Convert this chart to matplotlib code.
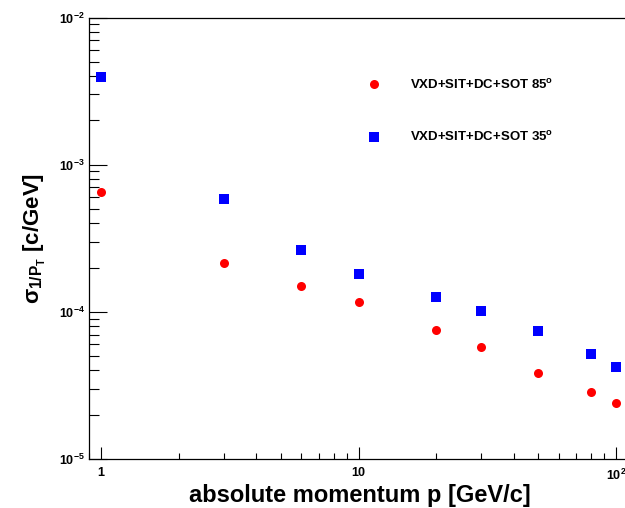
import matplotlib
matplotlib.use('Agg')
from matplotlib import pyplot as plt
from matplotlib.ticker import LogLocator, FixedLocator, FixedFormatter, NullFormatter

plt.rcParams['font.family'] = ['Liberation Sans', 'DejaVu Sans']
plt.rcParams['font.weight'] = 'bold'
plt.rcParams['mathtext.fontset'] = 'custom'
plt.rcParams['mathtext.rm'] = 'Liberation Sans:bold'
plt.rcParams['mathtext.it'] = 'Liberation Sans:bold'
plt.rcParams['mathtext.bf'] = 'Liberation Sans:bold'

# momentum points (GeV/c)
momentum = [1, 3, 6, 10, 20, 30, 50, 80, 100]

# resolution of 1/pT (c/GeV)
sigma_85 = [6.5e-4, 2.14e-4, 1.5e-4, 1.17e-4, 7.5e-5, 5.8e-5, 3.85e-5, 2.85e-5, 2.4e-5]
sigma_35 = [3.95e-3, 5.8e-4, 2.62e-4, 1.81e-4, 1.26e-4, 1.02e-4, 7.4e-5, 5.2e-5, 4.25e-5]

labels = ['VXD+SIT+DC+SOT 85$^{\\mathrm{o}}$', 'VXD+SIT+DC+SOT 35$^{\\mathrm{o}}$']

fig = plt.figure(figsize=(6.25, 5.08), dpi=100)
# axes run a little past the right edge, as in the cropped original
ax = fig.add_axes([89 / 625, 1 - 459 / 508, (630 - 89) / 625, (459 - 17.5) / 508])

ax.plot(momentum, sigma_85, 'o', color='#ff0000', markersize=6.5, markeredgewidth=0, label=labels[0])
ax.plot(momentum, sigma_35, 's', color='#0000ff', markersize=6.5, markeredgewidth=0, label=labels[1])

ax.set_xscale('log')
ax.set_yscale('log')
ax.set_xlim(0.898, 10 ** ((630 - 101) / 257.5))
ax.set_ylim(1e-5, 1e-2)

ax.xaxis.set_major_locator(FixedLocator([1, 10, 100]))
ax.xaxis.set_major_formatter(FixedFormatter(['1', '10', '10$^{2}$']))
ax.xaxis.set_minor_locator(LogLocator(base=10, subs=range(2, 10)))
ax.xaxis.set_minor_formatter(NullFormatter())
ax.yaxis.set_major_locator(FixedLocator([1e-5, 1e-4, 1e-3, 1e-2]))
ax.yaxis.set_major_formatter(FixedFormatter(['10$^{-5}$', '10$^{-4}$', '10$^{-3}$', '10$^{-2}$']))
ax.yaxis.set_minor_locator(LogLocator(base=10, subs=range(2, 10)))
ax.yaxis.set_minor_formatter(NullFormatter())

ax.tick_params(axis='x', which='major', direction='in', length=9, width=0.8, labelsize=9, pad=6)
ax.tick_params(axis='x', which='minor', direction='in', length=4.5, width=0.8)
ax.tick_params(axis='y', which='major', direction='in', length=13, width=0.8, labelsize=9, pad=3)
ax.tick_params(axis='y', which='minor', direction='in', length=7, width=0.8)
for s in ax.spines.values():
    s.set_linewidth(0.9)

ax.set_xlabel('absolute momentum p [GeV/c]', fontsize=17, fontweight='bold', labelpad=1)
ax.set_ylabel('$\\sigma_{1/P_{T}}$ [c/GeV]', fontsize=16, fontweight='bold', labelpad=8)

ax.legend(frameon=False, fontsize=9.5, loc='upper left', bbox_to_anchor=(0.505, 0.875),
          handlelength=1.0, handletextpad=2.2, labelspacing=2.9, borderaxespad=0)

fig.savefig('out.png', dpi=100)
